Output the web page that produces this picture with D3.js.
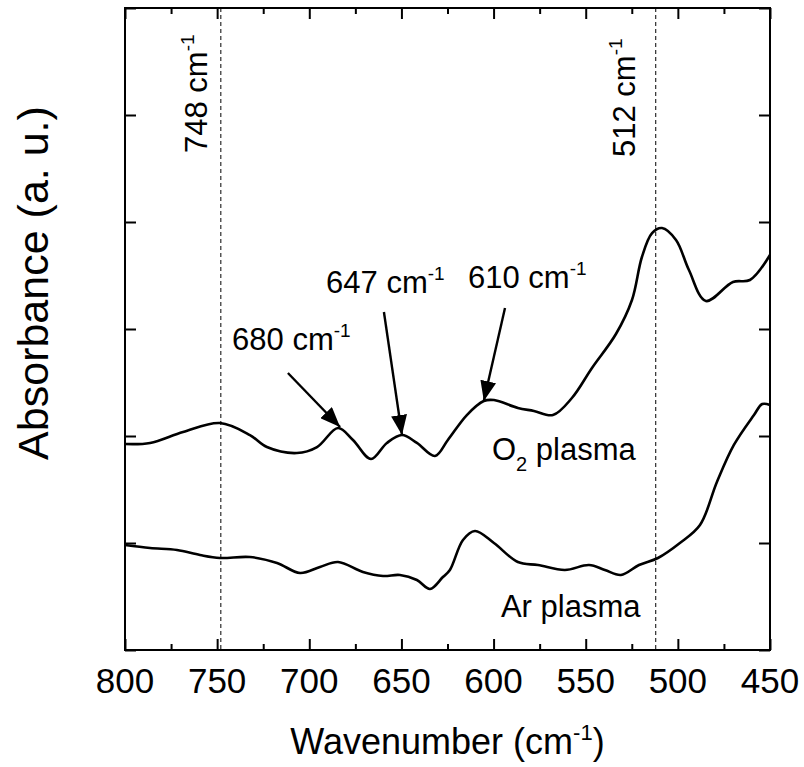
<!DOCTYPE html>
<html>
<head>
<meta charset="utf-8">
<script src="https://cdn.jsdelivr.net/npm/d3@7"></script>
<style>
  html, body { margin: 0; padding: 0; background: #fff; }
  svg { display: block; font-family: "Liberation Sans", Arial, sans-serif; }
</style>
</head>
<body>
<svg id="chart" width="804" height="767"></svg>
<script>
// FTIR absorbance spectra (offset for clarity), wavenumber in cm^-1
const o2Wavenumber = [800, 786.4, 768.5, 748.5, 732.2, 723.0, 706.7, 695.8, 684.4, 676.3, 666.5, 657.9, 649.7, 641.6, 631.8, 624.8, 614.5, 605.3, 599.8, 586.8, 578.1, 567.8, 557.5, 546.6, 533.6, 524.9, 519.5, 514.0, 508.6, 501.0, 494.0, 484.8, 470.1, 460.9, 450];
const o2Absorbance = [1.925, 1.935, 2.037, 2.121, 2.009, 1.897, 1.841, 1.897, 2.075, 1.963, 1.785, 1.935, 2.009, 1.935, 1.813, 1.963, 2.196, 2.327, 2.336, 2.262, 2.234, 2.196, 2.355, 2.636, 2.953, 3.271, 3.673, 3.897, 3.944, 3.832, 3.551, 3.262, 3.439, 3.458, 3.692];

const arWavenumber = [800, 786.4, 771.8, 759.3, 748.5, 732.2, 717.5, 705.0, 694.2, 684.4, 670.9, 660.0, 650.8, 641.6, 634.5, 627.5, 623.7, 616.6, 610.1, 599.8, 586.8, 575.9, 561.3, 548.2, 539.6, 530.9, 521.1, 510.8, 498.9, 488.0, 478.8, 469.6, 458.7, 454.2, 450];
const arAbsorbance = [0.981, 0.953, 0.935, 0.888, 0.860, 0.869, 0.813, 0.720, 0.776, 0.822, 0.729, 0.692, 0.701, 0.654, 0.570, 0.682, 0.748, 1.028, 1.112, 1.000, 0.822, 0.794, 0.748, 0.794, 0.748, 0.701, 0.794, 0.860, 1.000, 1.168, 1.570, 1.916, 2.196, 2.299, 2.290];

const xMajorTicks = [800, 750, 700, 650, 600, 550, 500, 450];
const xMinorTicks = [775, 725, 675, 625, 575, 525, 475];
const yTicks = [0, 1, 2, 3, 4, 5, 6];

// reference band positions (dashed guides)
const guideLines = [748, 512];

// peak annotations: label anchor, arrow tail, arrow tip (wavenumber, absorbance)
const peakLabels = ["680", "647", "610"];
const labelAt = [[741.9, 2.804], [690.9, 3.336], [613.9, 3.383]];
const arrowFrom = [[711.6, 2.589], [659.5, 3.159], [593.8, 3.196]];
const arrowTo = [[683.3, 2.084], [649.7, 2.009], [605.3, 2.327]];

const svg = d3.select("#chart");
const plotLeft = 125, plotRight = 770, plotTop = 8, plotBottom = 650;

const x = d3.scaleLinear().domain([800, 450]).range([plotLeft, plotRight]);
const y = d3.scaleLinear().domain([0, 6]).range([plotBottom, plotTop]);

const g = svg.append("g");

// dashed guides
g.selectAll("line.guide").data(guideLines).join("line")
  .attr("class", "guide")
  .attr("x1", d => x(d)).attr("x2", d => x(d))
  .attr("y1", plotTop).attr("y2", plotBottom)
  .attr("stroke", "#000").attr("stroke-width", 1)
  .attr("stroke-dasharray", "4,3");

// spectra
const line = d3.line()
  .x(d => x(d[0])).y(d => y(d[1]))
  .curve(d3.curveCatmullRom.alpha(0.5));

g.append("path")
  .datum(d3.zip(o2Wavenumber, o2Absorbance))
  .attr("d", line).attr("fill", "none")
  .attr("stroke", "#000").attr("stroke-width", 2.6);

g.append("path")
  .datum(d3.zip(arWavenumber, arAbsorbance))
  .attr("d", line).attr("fill", "none")
  .attr("stroke", "#000").attr("stroke-width", 2.6);

// axes with inward ticks on all four sides
function tickAxis(axisGen, transform, size) {
  g.append("g").attr("transform", transform)
    .call(axisGen.tickFormat("").tickSizeInner(size).tickSizeOuter(0))
    .call(s => s.select(".domain").remove())
    .call(s => s.selectAll("line").attr("stroke-width", 2));
}
tickAxis(d3.axisBottom(x).tickValues(xMajorTicks), `translate(0,${plotBottom})`, -11);
tickAxis(d3.axisBottom(x).tickValues(xMinorTicks), `translate(0,${plotBottom})`, -6);
tickAxis(d3.axisTop(x).tickValues(xMajorTicks), `translate(0,${plotTop})`, -11);
tickAxis(d3.axisTop(x).tickValues(xMinorTicks), `translate(0,${plotTop})`, -6);
tickAxis(d3.axisLeft(y).tickValues(yTicks), `translate(${plotLeft},0)`, -11);
tickAxis(d3.axisRight(y).tickValues(yTicks), `translate(${plotRight},0)`, -11);

// frame
g.append("rect")
  .attr("x", plotLeft).attr("y", plotTop)
  .attr("width", plotRight - plotLeft).attr("height", plotBottom - plotTop)
  .attr("fill", "none").attr("stroke", "#000").attr("stroke-width", 2);

// tick labels
g.selectAll("text.xtick").data(xMajorTicks).join("text")
  .attr("class", "xtick")
  .attr("x", d => x(d)).attr("y", 693)
  .attr("text-anchor", "middle")
  .attr("font-size", 35)
  .text(d => d);

// axis titles
const xt = svg.append("text")
  .attr("x", (plotLeft + plotRight) / 2).attr("y", 754)
  .attr("text-anchor", "middle").attr("font-size", 36);
xt.append("tspan").text("Wavenumber (cm");
xt.append("tspan").attr("font-size", 22).attr("dy", -14).text("-1");
xt.append("tspan").attr("dy", 14).text(")");

svg.append("text")
  .attr("transform", "translate(48,283) rotate(-90)")
  .attr("text-anchor", "middle").attr("font-size", 43)
  .text("Absorbance (a. u.)");

// superscripted wavenumber label
function cmLabel(sel, value) {
  sel.append("tspan").text(value + " cm");
  sel.append("tspan").attr("font-size", 19).attr("dy", -13).text("-1");
}

// guide labels (rotated)
const guideLabelPos = [[207, 153], [635, 157]];
guideLines.forEach((d, i) => {
  const t = svg.append("text")
    .attr("transform", `translate(${guideLabelPos[i][0]},${guideLabelPos[i][1]}) rotate(-90)`)
    .attr("font-size", 31);
  cmLabel(t, d);
});

// arrowhead
svg.append("defs").append("marker")
  .attr("id", "head").attr("markerUnits", "userSpaceOnUse")
  .attr("viewBox", "0 0 20 16").attr("refX", 20).attr("refY", 8)
  .attr("markerWidth", 20).attr("markerHeight", 16)
  .attr("orient", "auto")
  .append("path").attr("d", "M0,0 L20,8 L0,16 Z").attr("fill", "#000");

peakLabels.forEach((lab, i) => {
  g.append("line")
    .attr("x1", x(arrowFrom[i][0])).attr("y1", y(arrowFrom[i][1]))
    .attr("x2", x(arrowTo[i][0])).attr("y2", y(arrowTo[i][1]))
    .attr("stroke", "#000").attr("stroke-width", 2.4)
    .attr("marker-end", "url(#head)");
  const t = svg.append("text")
    .attr("x", x(labelAt[i][0])).attr("y", y(labelAt[i][1]))
    .attr("font-size", 31);
  cmLabel(t, lab);
});

// series labels
const o2Label = svg.append("text")
  .attr("x", x(600.9)).attr("y", y(1.776)).attr("font-size", 31);
o2Label.append("tspan").text("O");
o2Label.append("tspan").attr("font-size", 20).attr("dy", 11).text("2");
o2Label.append("tspan").attr("dy", -11).text(" plasma");

svg.append("text")
  .attr("x", x(596.0)).attr("y", y(0.308)).attr("font-size", 31)
  .text("Ar plasma");
</script>
</body>
</html>
